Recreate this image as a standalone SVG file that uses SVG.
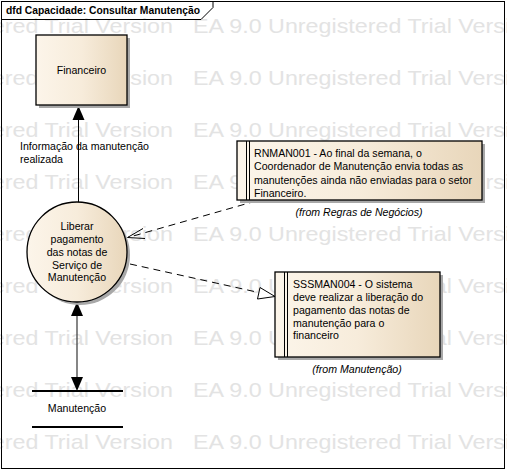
<svg xmlns="http://www.w3.org/2000/svg" width="507" height="471" viewBox="0 0 507 471">
<style>
.wm{font-family:"Liberation Sans",Arial,sans-serif;font-size:21px;fill:#e3e3e3}
.t{font-family:"Liberation Sans",Arial,sans-serif;font-size:10.6px;fill:#000}
.c{text-anchor:middle}
.i{font-style:italic}
.b{font-weight:bold;font-size:10.3px}
.shadow{fill:#a8a8a8}
.node{fill:url(#g);stroke:#000;stroke-width:1.3}
.note{fill:url(#g);stroke:#000;stroke-width:1.3}
.dash{fill:none;stroke:#000;stroke-width:1;stroke-dasharray:7,5}
</style>
<defs>
<linearGradient id="g" x1="0" y1="0" x2="1" y2="0">
<stop offset="0" stop-color="#fcf5ea"/>
<stop offset="0.5" stop-color="#f7ecdb"/>
<stop offset="1" stop-color="#e8d6ba"/>
</linearGradient>
</defs>
<rect x="0" y="0" width="507" height="471" fill="#fff"/>
<g id="watermark">
<text class="wm" x="-170" y="33" textLength="343" lengthAdjust="spacingAndGlyphs">EA 9.0 Unregistered Trial Version</text>
<text class="wm" x="193" y="33" textLength="343" lengthAdjust="spacingAndGlyphs">EA 9.0 Unregistered Trial Version</text>
<text class="wm" x="-170" y="85" textLength="343" lengthAdjust="spacingAndGlyphs">EA 9.0 Unregistered Trial Version</text>
<text class="wm" x="193" y="85" textLength="343" lengthAdjust="spacingAndGlyphs">EA 9.0 Unregistered Trial Version</text>
<text class="wm" x="-170" y="137" textLength="343" lengthAdjust="spacingAndGlyphs">EA 9.0 Unregistered Trial Version</text>
<text class="wm" x="193" y="137" textLength="343" lengthAdjust="spacingAndGlyphs">EA 9.0 Unregistered Trial Version</text>
<text class="wm" x="-170" y="189" textLength="343" lengthAdjust="spacingAndGlyphs">EA 9.0 Unregistered Trial Version</text>
<text class="wm" x="193" y="189" textLength="343" lengthAdjust="spacingAndGlyphs">EA 9.0 Unregistered Trial Version</text>
<text class="wm" x="-170" y="241" textLength="343" lengthAdjust="spacingAndGlyphs">EA 9.0 Unregistered Trial Version</text>
<text class="wm" x="193" y="241" textLength="343" lengthAdjust="spacingAndGlyphs">EA 9.0 Unregistered Trial Version</text>
<text class="wm" x="-170" y="293" textLength="343" lengthAdjust="spacingAndGlyphs">EA 9.0 Unregistered Trial Version</text>
<text class="wm" x="193" y="293" textLength="343" lengthAdjust="spacingAndGlyphs">EA 9.0 Unregistered Trial Version</text>
<text class="wm" x="-170" y="345" textLength="343" lengthAdjust="spacingAndGlyphs">EA 9.0 Unregistered Trial Version</text>
<text class="wm" x="193" y="345" textLength="343" lengthAdjust="spacingAndGlyphs">EA 9.0 Unregistered Trial Version</text>
<text class="wm" x="-170" y="397" textLength="343" lengthAdjust="spacingAndGlyphs">EA 9.0 Unregistered Trial Version</text>
<text class="wm" x="193" y="397" textLength="343" lengthAdjust="spacingAndGlyphs">EA 9.0 Unregistered Trial Version</text>
<text class="wm" x="-170" y="449" textLength="343" lengthAdjust="spacingAndGlyphs">EA 9.0 Unregistered Trial Version</text>
<text class="wm" x="193" y="449" textLength="343" lengthAdjust="spacingAndGlyphs">EA 9.0 Unregistered Trial Version</text>
</g>
<g id="frame">
<rect x="1.5" y="1.5" width="503" height="467" fill="none" stroke="#000" stroke-width="1"/>
<path d="M1.5,19.5 H201 L213,7.5 V1.5" fill="none" stroke="#000" stroke-width="1"/>
<text class="t b" x="6" y="14">dfd Capacidade: Consultar Manutenção</text>
</g>
<g id="connectors">
<line x1="78.5" y1="202" x2="78.5" y2="119" stroke="#000" stroke-width="1"/>
<polygon points="78.5,106 72.5,120 84.5,120" fill="#000"/>
<text class="t" x="20" y="149.5">Informação da manutenção</text>
<text class="t" x="20" y="162.5">realizada</text>
<line x1="77" y1="315" x2="77" y2="378" stroke="#444" stroke-width="1.3"/>
<polygon points="77,302 71,316 83,316" fill="#000"/>
<polygon points="77,391 71,377 83,377" fill="#000"/>
<line x1="256" y1="201" x2="128" y2="237.5" class="dash"/>
<polyline points="143,228.5 127.5,237.5 145,238.5" fill="none" stroke="#000" stroke-width="1"/>
<line x1="130" y1="264" x2="261" y2="293" class="dash"/>
<polygon points="275,296.5 260,287.5 257.5,299" fill="#fff" stroke="#000" stroke-width="1"/>
</g>
<g id="financeiro">
<rect class="shadow" x="39" y="38" width="91" height="70"/>
<rect class="node" x="36" y="35" width="91" height="70"/>
<text class="t c" x="81.5" y="74">Financeiro</text>
</g>
<g id="processo">
<circle class="shadow" cx="80" cy="255" r="50"/>
<circle class="node" cx="77" cy="252" r="50"/>
<text class="t c" x="77" y="230">Liberar</text>
<text class="t c" x="77" y="243">pagamento</text>
<text class="t c" x="77" y="256">das notas de</text>
<text class="t c" x="77" y="268.5">Serviço de</text>
<text class="t c" x="77" y="281">Manutenção</text>
</g>
<g id="manutencao">
<line x1="32" y1="391" x2="123" y2="391" stroke="#000" stroke-width="2"/>
<line x1="32" y1="427" x2="123" y2="427" stroke="#000" stroke-width="2"/>
<text class="t c" x="77" y="412">Manutenção</text>
</g>
<g id="rnman001">
<rect class="shadow" x="240" y="144" width="245" height="59"/>
<rect class="note" x="237" y="141" width="245" height="59"/>
<line x1="246.5" y1="141" x2="246.5" y2="200" stroke="#000" stroke-width="1"/>
<line x1="249.5" y1="141" x2="249.5" y2="200" stroke="#000" stroke-width="1"/>
<text class="t" x="254" y="157">RNMAN001 - Ao final da semana, o</text>
<text class="t" x="254" y="170">Coordenador de Manutenção envia todas as</text>
<text class="t" x="254" y="183.5">manutenções ainda não enviadas para o setor</text>
<text class="t" x="254" y="196.5">Financeiro.</text>
<text class="t c i" x="359" y="216">(from Regras de Negócios)</text>
</g>
<g id="sssman004">
<rect class="shadow" x="278" y="275" width="165" height="85"/>
<rect class="note" x="275" y="272" width="165" height="85"/>
<line x1="284.5" y1="272" x2="284.5" y2="357" stroke="#000" stroke-width="1"/>
<line x1="287.5" y1="272" x2="287.5" y2="357" stroke="#000" stroke-width="1"/>
<text class="t" x="293" y="287.5">SSSMAN004 - O sistema</text>
<text class="t" x="293" y="300.5">deve realizar a liberação do</text>
<text class="t" x="293" y="313.5">pagamento das notas de</text>
<text class="t" x="293" y="326.5">manutenção para o</text>
<text class="t" x="293" y="339">financeiro</text>
<text class="t c i" x="357" y="372.5">(from Manutenção)</text>
</g>
</svg>
